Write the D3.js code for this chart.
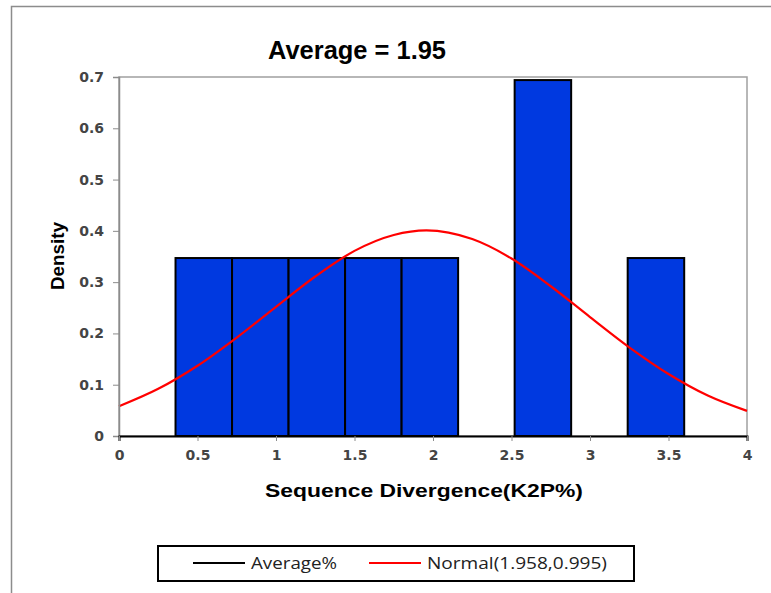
<!DOCTYPE html>
<html>
<head>
<meta charset="utf-8">
<script src="https://cdn.jsdelivr.net/npm/d3@7"></script>
<style>
  body { margin: 0; background: #fff; }
</style>
</head>
<body>
<div id="idMyCanvas"></div>
<script>
// histogram bins (K2P %) and density heights
let bin_starts = [0.36, 0.72, 1.08, 1.44, 1.80, 2.52, 3.24];
let bin_width = 0.36;
let bin_density = [0.347, 0.347, 0.347, 0.347, 0.347, 0.694, 0.347];

// red curve
let curve_x = [0, 0.25, 0.5, 0.75, 1.0, 1.25, 1.5, 1.75, 1.958, 2.25, 2.5, 2.75, 3.0, 3.25, 3.5, 3.75, 4.0];
let curve_y = [0.058, 0.092, 0.137, 0.192, 0.252, 0.311, 0.361, 0.392, 0.401, 0.384, 0.346, 0.292, 0.232, 0.173, 0.121, 0.079, 0.049];

let x_ticks = [0, 0.5, 1, 1.5, 2, 2.5, 3, 3.5, 4];
let y_ticks = [0, 0.1, 0.2, 0.3, 0.4, 0.5, 0.6, 0.7];

let legend_labels = ["Average%", "Normal(1.958,0.995)"];
let legend_colors = ["#000000", "#ff0000"];
let legend_len = [86, 180];

let W = 771, H = 593;
let plot_x0 = 119, plot_x1 = 747, plot_y0 = 77, plot_y1 = 436;

let svg_obj = d3.select("#idMyCanvas")
                .append("svg")
                  .attr("width", W)
                  .attr("height", H)
                  .attr("xmlns", "http://www.w3.org/2000/svg");

// outer chart frame
svg_obj.append("rect")
  .attr("x", 11.5).attr("y", 6.5)
  .attr("width", 800).attr("height", 700)
  .attr("fill", "white")
  .attr("stroke", "#8c8c8c")
  .attr("stroke-width", 1.5);

let x = d3.scaleLinear().domain([0, 4]).range([plot_x0, plot_x1]);
let y = d3.scaleLinear().domain([0, 0.7]).range([plot_y1, plot_y0]);

// plot area box (gray)
svg_obj.append("rect")
  .attr("x", plot_x0).attr("y", plot_y0)
  .attr("width", plot_x1 - plot_x0).attr("height", plot_y1 - plot_y0)
  .attr("fill", "white")
  .attr("stroke", "#a0a0a0")
  .attr("stroke-width", 1.5);

// bars
svg_obj.append("g").selectAll("rect")
  .data(bin_starts)
  .join("rect")
    .attr("x", (d) => x(d))
    .attr("y", (d, i) => y(bin_density[i]))
    .attr("width", (d) => x(d + bin_width) - x(d))
    .attr("height", (d, i) => y(0) - y(bin_density[i]))
    .attr("fill", "#0039e0")
    .attr("stroke", "black")
    .attr("stroke-width", 2);

// normal curve
let curve_pts = curve_x.map((v, i) => [v, curve_y[i]]);
svg_obj.append("path")
  .datum(curve_pts)
  .attr("d", d3.line().x((d) => x(d[0])).y((d) => y(d[1])).curve(d3.curveMonotoneX))
  .attr("fill", "none")
  .attr("stroke", "#ff0000")
  .attr("stroke-width", 2.2);

let tick_font = "'DejaVu Sans', Verdana, sans-serif";

// y axis
let y_axis = svg_obj.append("g")
  .attr("transform", "translate(" + plot_x0 + ",0)")
  .call(d3.axisLeft(y).tickValues(y_ticks).tickSize(6).tickPadding(9)
          .tickFormat((d) => d === 0 ? "0" : d3.format(".1f")(d)));
y_axis.select(".domain").attr("stroke", "#8c8c8c").attr("stroke-width", 1.5);
y_axis.selectAll(".tick line").attr("stroke", "#8c8c8c");
y_axis.selectAll("text")
  .style("font-family", tick_font)
  .style("font-size", "14px")
  .style("font-weight", "bold")
  .attr("fill", "#444");

// x axis
let x_axis = svg_obj.append("g")
  .attr("transform", "translate(0," + plot_y1 + ")")
  .call(d3.axisBottom(x).tickValues(x_ticks).tickSize(5).tickPadding(9)
          .tickFormat(d3.format("")));
x_axis.select(".domain").attr("stroke", "black").attr("stroke-width", 2);
x_axis.selectAll(".tick line").attr("stroke", "#8c8c8c");
x_axis.selectAll("text")
  .style("font-family", tick_font)
  .style("font-size", "14px")
  .style("font-weight", "bold")
  .attr("fill", "#444");

// titles
svg_obj.append("text")
  .attr("x", 357).attr("y", 59)
  .attr("text-anchor", "middle")
  .attr("font-family", "'Liberation Sans', Arial, sans-serif")
  .attr("font-weight", "bold")
  .attr("font-size", "25px")
  .attr("textLength", 178)
  .attr("lengthAdjust", "spacingAndGlyphs")
  .text("Average = 1.95");

svg_obj.append("text")
  .attr("x", 424).attr("y", 497)
  .attr("text-anchor", "middle")
  .attr("font-family", "'Liberation Sans', Arial, sans-serif")
  .attr("font-weight", "bold")
  .attr("font-size", "19px")
  .attr("textLength", 318)
  .attr("lengthAdjust", "spacingAndGlyphs")
  .text("Sequence Divergence(K2P%)");

svg_obj.append("text")
  .attr("transform", "translate(64,256) rotate(-90)")
  .attr("text-anchor", "middle")
  .attr("font-family", "'Liberation Sans', Arial, sans-serif")
  .attr("font-weight", "bold")
  .attr("font-size", "18px")
  .attr("textLength", 68)
  .attr("lengthAdjust", "spacingAndGlyphs")
  .text("Density");

// legend
svg_obj.append("rect")
  .attr("x", 158).attr("y", 546)
  .attr("width", 476).attr("height", 35)
  .attr("fill", "white")
  .attr("stroke", "black")
  .attr("stroke-width", 2);

let legend_x = [193, 369];
let leg = svg_obj.append("g").selectAll("g")
  .data(legend_labels)
  .join("g")
    .attr("transform", (d, i) => "translate(" + legend_x[i] + ",563)");
leg.append("line")
  .attr("x1", 0).attr("x2", 52)
  .attr("y1", 0).attr("y2", 0)
  .attr("stroke", (d, i) => legend_colors[i])
  .attr("stroke-width", 2);
leg.append("text")
  .attr("x", 58).attr("y", 6)
  .attr("font-family", "'Open Sans', 'Liberation Sans', sans-serif")
  .attr("font-size", "17px")
  .attr("fill", "#222")
  .attr("textLength", (d, i) => legend_len[i])
  .attr("lengthAdjust", "spacingAndGlyphs")
  .text((d) => d);
</script>
</body>
</html>
